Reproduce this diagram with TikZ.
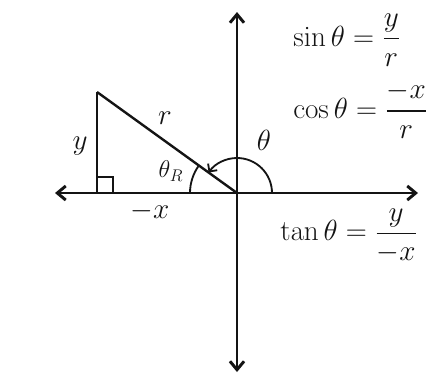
\documentclass[tikz,border=0pt]{standalone}
\usepackage{amsmath}
\usepackage{tikz}
\usetikzlibrary{positioning,arrows.meta,calc}
\definecolor{ink}{RGB}{20,20,20}

\begin{document}
\begin{tikzpicture}[x=0.025cm,y=-0.025cm,
  axis/.style={draw=ink,line width=2.1pt,
    {Straight Barb[length=6pt,width=10pt]}-{Straight Barb[length=6pt,width=10pt]}},
  leg/.style={draw=ink,line width=1.7pt},
  anglearc/.style={draw=ink,line width=1.3pt},
  lbl/.style={text=ink,font=\huge,inner sep=1pt},
  eqn/.style={text=ink,font=\fontsize{22}{26}\selectfont,anchor=west,inner sep=0pt}]
\useasboundingbox[fill=white] (0,0) rectangle (447,377);
% axes
\coordinate (O) at (237,193);
\coordinate (xl) at (55,193);
\coordinate (xr) at (418,193);
\coordinate (yt) at (237,12);
\coordinate (yb) at (237,372);
\draw[axis] (xl) -- (xr);
\draw[axis] (yt) -- (yb);
% triangle
\coordinate (A) at (97,92);
\coordinate (B) at (97,193);
\draw[leg] (A) -- (B);
\draw[leg] (A) -- (O);
\draw[leg,line width=1.3pt] (B) ++(0,-16) -| ++(16,16);
\node[lbl] (rlbl) at (165,118) {$r$};
\node[lbl] (ylbl) at (80,146) {$y$};
\node[lbl] (xlbl) at (150,211) {$-x$};
% angles
\draw[anglearc] ($(O)+(180:47)$) arc[start angle=180,end angle=215.8,radius=47];
\draw[anglearc,-{Straight Barb[length=4pt,width=8pt]}] ($(O)+(0:35)$)
  arc[start angle=0,end angle=-144.2,radius=35];
\node[lbl,font=\LARGE] (threflbl) at (171,171) {$\theta_R$};
\node[lbl] (thlbl) at (264,140) {$\theta$};
% ratios
\node[eqn] (sineq) at (293,40) {$\sin\theta = \dfrac{y}{r}$};
\node[eqn] (coseq) at (293,110) {$\cos\theta = \dfrac{-x}{r}$};
\node[eqn] (taneq) at (280,236) {$\tan\theta = \dfrac{y}{-x}$};
\end{tikzpicture}
\end{document}
